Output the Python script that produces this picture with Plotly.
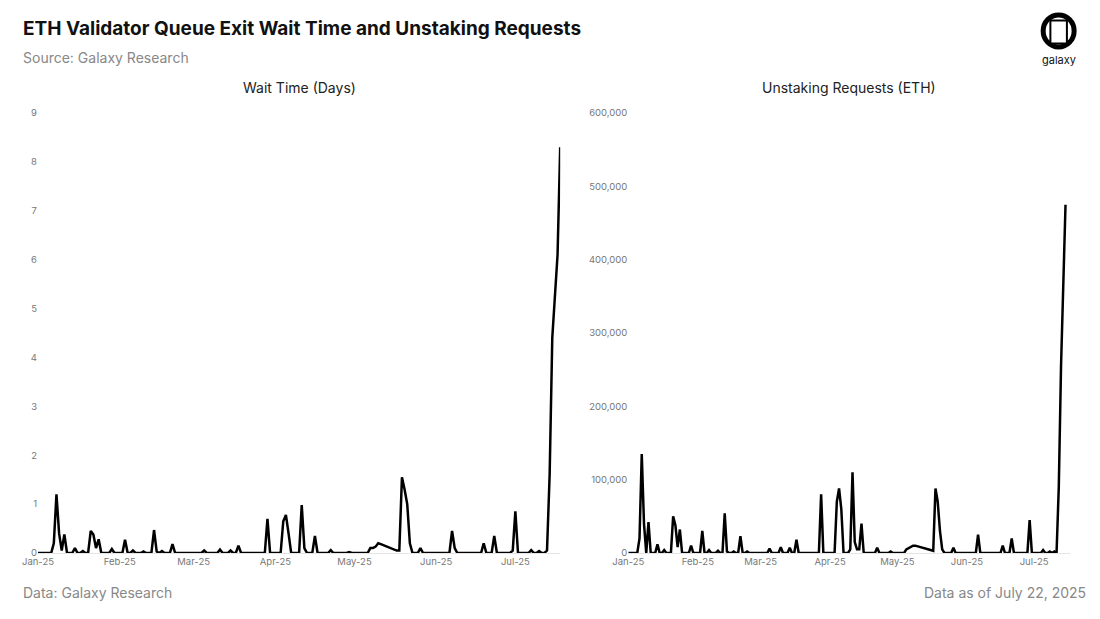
import pandas as pd
import plotly.graph_objects as go
from plotly.subplots import make_subplots

start = pd.Timestamp("2025-01-01")

# Wait time (days): day offset from Jan 1 -> value
wait_days = [5, 6, 7, 8, 9, 10, 11, 14, 17, 20, 21, 22, 23, 24, 28, 33, 34, 36, 40, 44, 45, 47, 51, 52,
             63, 69, 73, 76, 77, 87, 88, 89, 93, 94, 95, 96, 100, 101, 102, 105, 106, 111, 112, 118,
             126, 127, 128, 129, 130, 131, 132, 133, 134, 135, 136, 137, 138, 139, 140, 141, 142, 145, 146,
             157, 158, 169, 170, 173, 174, 180, 181, 182, 187, 190, 193, 194, 195, 196, 197, 198]
wait_vals = [0.0, 0.2, 1.2, 0.4, 0.05, 0.38, 0.0, 0.1, 0.04, 0.45, 0.38, 0.1, 0.28, 0.0, 0.08, 0.27, 0.0, 0.05, 0.03, 0.47, 0.03, 0.04, 0.18, 0.0,
             0.05, 0.07, 0.05, 0.15, 0.0, 0.7, 0.0, 0.0, 0.65, 0.78, 0.4, 0.0, 0.98, 0.1, 0.0, 0.35, 0.0, 0.06, 0.0, 0.02,
             0.1, 0.1, 0.13, 0.2, 0.18, 0.16, 0.14, 0.12, 0.1, 0.07, 0.05, 0.05, 1.55, 1.3, 1.0, 0.2, 0.0, 0.1, 0.0,
             0.45, 0.1, 0.2, 0.0, 0.35, 0.0, 0.05, 0.85, 0.0, 0.06, 0.04, 0.05, 1.6, 4.4, 5.2, 6.1, 8.3]

# Unstaking requests (ETH)
req_days = [4, 5, 6, 7, 8, 9, 10, 13, 14, 16, 17, 20, 21, 22, 23, 24, 28, 33, 34, 36, 40, 43, 44, 45, 47, 50, 51, 53,
            63, 68, 72, 75, 76, 86, 87, 88, 93, 94, 95, 96, 99, 100, 101, 102, 103, 104, 105, 106, 111, 117,
            124, 125, 126, 127, 128, 129, 130, 131, 132, 133, 134, 135, 136, 137, 138, 139, 140, 141, 145, 146,
            156, 157, 167, 168, 171, 172, 179, 180, 185, 188, 190, 191, 192, 193, 194, 195]
req_vals = [0, 20000, 135000, 40000, 0, 42000, 0, 12000, 0, 4000, 0, 50000, 38000, 8000, 32000, 0, 10000, 30000, 0, 4000, 3000, 54000, 2000, 0, 2000, 23000, 0, 2000,
            6000, 8000, 7000, 18000, 0, 80000, 0, 0, 70000, 88000, 60000, 0, 5000, 110000, 15000, 5000, 5000, 40000, 0, 0, 7000, 2000,
            5000, 7000, 8000, 10000, 10000, 9000, 8000, 7000, 6000, 5000, 4000, 3000, 3000, 88000, 70000, 30000, 5000, 0, 7000, 0,
            25000, 0, 10000, 0, 20000, 0, 45000, 0, 4000, 2000, 2000, 0, 90000, 255000, 350000, 475000]

def series(days, vals):
    m = dict(zip(days, vals))
    d = list(range(0, max(days) + 1))
    return [start + pd.Timedelta(days=i) for i in d], [m.get(i, 0) for i in d]

wx, wy = series(wait_days, wait_vals)
rx, ry = series(req_days, req_vals)

fig = make_subplots(rows=1, cols=2, horizontal_spacing=0.066,
                    subplot_titles=("Wait Time (Days)", "Unstaking Requests (ETH)"))
fig.add_trace(go.Scatter(x=wx, y=wy, mode="lines", line=dict(color="black", width=2.5), showlegend=False), 1, 1)
fig.add_trace(go.Scatter(x=rx, y=ry, mode="lines", line=dict(color="black", width=2.5), showlegend=False), 1, 2)

font = "Inter, Lato, sans-serif"
xcommon = dict(tickformat="%b-%y", dtick="M1", tick0="2025-01-01", showgrid=False, zeroline=False,
               showline=True, linecolor="#e4e4e4", ticks="", tickfont=dict(size=9.5, color="#777"))
fig.update_xaxes(range=["2025-01-01", "2025-07-18"], **xcommon, row=1, col=1)
fig.update_xaxes(range=["2025-01-01", "2025-07-17"], **xcommon, row=1, col=2)
fig.update_yaxes(range=[0, 9], dtick=1, showgrid=False, zeroline=False, tickfont=dict(size=9.5, color="#777"), row=1, col=1)
fig.update_yaxes(range=[0, 600000], dtick=100000, tickformat=",", showgrid=False, zeroline=False,
                 tickfont=dict(size=9.5, color="#777"), row=1, col=2)
fig.update_xaxes(domain=[0, 0.506], row=1, col=1)
fig.update_xaxes(domain=[0.572, 1.0], row=1, col=2)
for a in fig.layout.annotations:
    a.font = dict(size=14, color="#222", family=font)
    a.y = 1.057
    a.yanchor = "middle"
fig.layout.annotations[0].x = 0.253
fig.layout.annotations[1].x = 0.786

fig.add_annotation(text="<b>ETH Validator Queue Exit Wait Time and Unstaking Requests</b>", xref="paper", yref="paper",
                   x=-0.016, y=1.161, xanchor="left", yanchor="bottom", showarrow=False,
                   font=dict(size=19, color="#111", family=font))
fig.add_annotation(text="Source: Galaxy Research", xref="paper", yref="paper", x=-0.016, y=1.127,
                   xanchor="left", yanchor="middle", showarrow=False, font=dict(size=14, color="#888", family=font))
fig.add_annotation(text="Data: Galaxy Research", xref="paper", yref="paper", x=-0.016, y=-0.09,
                   xanchor="left", yanchor="middle", showarrow=False, font=dict(size=14, color="#888", family=font))
fig.add_annotation(text="Data as of July 22, 2025", xref="paper", yref="paper", x=1.017, y=-0.09,
                   xanchor="right", yanchor="middle", showarrow=False, font=dict(size=14, color="#888", family=font))
# logo
fig.add_shape(type="circle", xref="paper", yref="paper", x0=0.974, x1=1.004, y0=1.15, y1=1.223,
              line=dict(color="black", width=5), fillcolor="white")
fig.add_shape(type="rect", xref="paper", yref="paper", x0=0.981, x1=0.997, y0=1.158, y1=1.21,
              line=dict(color="black", width=2), fillcolor="white")
fig.add_annotation(text="galaxy", xref="paper", yref="paper", x=0.989, y=1.12, xanchor="center", yanchor="middle",
                   showarrow=False, font=dict(size=11, color="#111", family=font))

fig.update_layout(width=1100, height=619, margin=dict(l=30, r=38, t=105, b=74),
                  plot_bgcolor="white", paper_bgcolor="white", font=dict(family=font))
fig.write_html("out.html")
